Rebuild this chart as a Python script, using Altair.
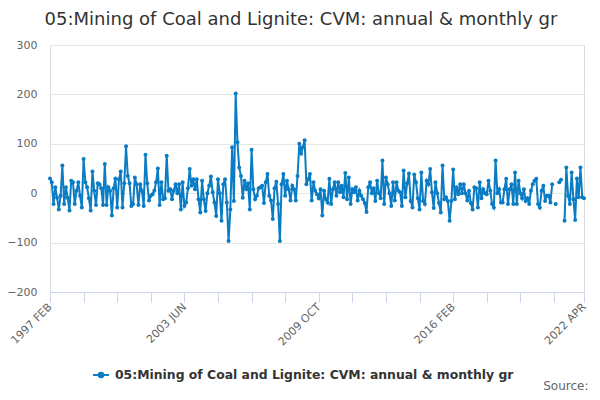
import json
import altair as alt
import pandas as pd

# ---- data -----------------------------------------------------------------
months = [d.strftime("%Y %b").upper() for d in pd.date_range("1997-02-01", periods=303, freq="MS")]

values = [
    30, 22, -22, 12, -9, -33, -5, 56, -22, 12, -9, -35,
    25, 22, -22, 5, 22, -5, -29, 69, 22, 12, -10, -35,
    44, 5, -24, 20, 18, 10, -24, 59, -24, 12, 5, -45,
    10, 30, -29, 28, 44, -29, 20, 95, 35, 20, -26, -22,
    32, 18, -24, 18, 5, -26, 78, 20, -15, -5, -2, 5,
    22, 50, -24, 22, -12, -10, 76, 5, 8, -12, 5, 18,
    0, 18, -33, 22, -26, -19, 10, 49, 15, 28, 8, 28,
    -12, -39, 25, -12, -36, 0, 15, 34, 2, -19, -46, 28,
    0, -56, 18, 28, -19, -97, -33, 93, -16, 202, 103, 52,
    35, -9, 25, 8, 20, -33, 88, 8, -12, -5, 10, 12,
    15, -20, 22, 39, -5, -15, -52, 10, 23, -22, -97, 18,
    39, -5, 25, 8, -15, 15, 8, -15, 35, 100, 80, 93,
    107, 18, 28, 39, -15, 22, 5, -2, -10, 8, -45, 5,
    -12, -19, 29, -22, 8, 22, -5, 22, 2, 15, -8, 41,
    -12, 32, -22, 8, 2, 12, -15, 5, -5, -12, -20, -38,
    12, 22, 0, 10, -16, 25, 0, -10, 66, -22, 32, 18,
    0, -26, 22, -15, 22, 5, 2, -26, 46, -8, 20, 40,
    -16, -29, 38, 22, -10, -33, 42, -16, -22, 25, 18, 49,
    2, -30, 22, 0, -20, -39, 56, -12, -8, -16, -56, -16,
    48, -12, 12, -2, 18, 0, 18, 0, -15, 5, -20, -33,
    12, 10, -29, 22, -10, 8, 0, -2, 25, 5, -22, -29,
    66, 0, 8, -19, -19, 8, 29, -22, 8, 18, -22, 42,
    -22, 25, 0, -10, 8, -16, -10, -22, 5, 18, 25, 29,
    -22, -29, 5, 15, -16, -5, -5, -19, 18, None, -22, None,
    22, 27, None, -56, 52, -5, -22, 42, -12, -54, 30, -8,
    52, -8, -10,
]

series_name = "05:Mining of Coal and Lignite: CVM: annual & monthly gr"
title_text = "05:Mining of Coal and Lignite: CVM: annual & monthly gr"
label_months = ["1997 FEB", "2003 JUN", "2009 OCT", "2016 FEB", "2022 APR"]
y_ticks = [-200, -100, 0, 100, 200, 300]
source_text = "Source:"

tick_months = [months[i] for i in range(0, len(months), 19)] + [months[-1]]

df = pd.DataFrame({"month": months, "value": values, "series": series_name})

# ---- styles ---------------------------------------------------------------
BLUE = "#0a7cc4"
FONT = "DejaVu Sans"

label_expr = "indexof(" + json.dumps(label_months) + ", datum.value) >= 0 ? datum.value : ''"

x_enc = alt.X(
    "month:O",
    sort=None,
    scale=alt.Scale(type="point", padding=0, domain=months),
    axis=alt.Axis(
        values=tick_months,
        labelExpr=label_expr,
        title=source_text,
        titleX=538,
        titleY=97,
        titleAlign="right",
        titleBaseline="alphabetic",
        titleAngle=0,
        titleFont=FONT,
        titleFontSize=12,
        titleFontWeight="normal",
        titleColor="#666666",
        labelAngle=-45,
        labelAlign="right",
        labelBaseline="middle",
        labelPadding=3,
        labelOverlap=False,
        labelFont=FONT,
        labelFontSize=11,
        labelColor="#666666",
        domain=True,
        domainColor="#ccd6eb",
        tickColor="#ccd6eb",
        tickSize=10,
        grid=False,
    ),
)

y_enc = alt.Y(
    "value:Q",
    scale=alt.Scale(domain=[-200, 300], nice=False, zero=False),
    axis=alt.Axis(
        values=y_ticks,
        title=None,
        domain=False,
        ticks=False,
        grid=True,
        labelPadding=13,
        labelFont=FONT,
        labelFontSize=11,
        labelColor="#666666",
        gridColor="#e6e6e6",
        gridWidth=1,
    ),
)

color_enc = alt.Color(
    "series:N",
    scale=alt.Scale(range=[BLUE]),
    legend=alt.Legend(
        title=None,
        orient="none",
        legendX=42,
        legendY=321,
        symbolType="M-1,0H1M-0.28,0A0.28,0.28,0,1,0,0.28,0A0.28,0.28,0,1,0,-0.28,0Z",
        symbolSize=256,
        symbolStrokeWidth=2,
        symbolFillColor=BLUE,
        symbolStrokeColor=BLUE,
        labelFont=FONT,
        labelFontSize=12.4,
        labelFontWeight="bold",
        labelColor="#333333",
        labelLimit=600,
        labelOffset=5,
    ),
)

chart = (
    alt.Chart(df)
    .mark_line(strokeWidth=2, point=alt.OverlayMarkDef(filled=True, size=16, opacity=1))
    .encode(x=x_enc, y=y_enc, color=color_enc)
    .properties(
        width=534,
        height=247,
        autosize=alt.AutoSizeParams(type="none"),
        padding={"left": 42, "top": 37, "right": 8, "bottom": 100},
        title=alt.Title(
            title_text,
            anchor="middle",
            dx=-16,
            offset=10,
            font=FONT,
            fontSize=18,
            fontWeight="normal",
            color="#333333",
        ),
    )
    .configure_view(stroke="transparent", strokeWidth=0)
    .configure(background="white")
)

chart.save("out.html", embed_options={"renderer": "svg", "actions": False})
